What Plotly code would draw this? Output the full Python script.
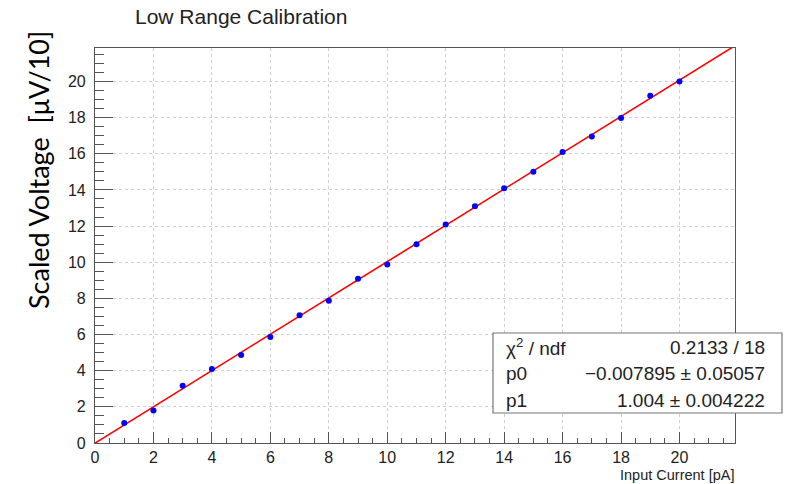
import plotly.graph_objects as go

# ---- data ----
current_pA = [1, 2, 3, 4, 5, 6, 7, 8, 9, 10, 11, 12, 13, 14, 15, 16, 17, 18, 19, 20]
scaled_voltage = [1.10, 1.80, 3.17, 4.09, 4.87, 5.86, 7.07, 7.87, 9.09, 9.88,
                  10.99, 12.08, 13.09, 14.09, 15.01, 16.10, 16.96, 17.98, 19.21, 19.99]
fit_p0 = -0.007895
fit_p1 = 1.004
fit_x = [0.0, 21.9]
stat_names = ["χ<sup>2</sup> / ndf", "p0", "p1"]
stat_values = ["0.2133 / 18", "−0.007895 ± 0.05057", "1.004 ± 0.004222"]
x_ticks = [0, 2, 4, 6, 8, 10, 12, 14, 16, 18, 20]
y_ticks = [0, 2, 4, 6, 8, 10, 12, 14, 16, 18, 20]

fit_y = [fit_p0 + fit_p1 * x for x in fit_x]

W, H = 785, 484
ML, MR, MT, MB = 95, 50, 48, 41
PW, PH = W - ML - MR, H - MT - MB

def px_x(px):
    return (px - ML) / PW

def px_y(py):
    return (H - MB - py) / PH

fig = go.Figure()
fig.add_trace(go.Scatter(x=fit_x, y=fit_y, mode="lines",
                         line=dict(color="#ff0000", width=1.6), hoverinfo="skip"))
fig.add_trace(go.Scatter(x=current_pA, y=scaled_voltage, mode="markers",
                         marker=dict(color="#0000ff", size=6)))

tickfont = dict(family="Liberation Sans, Arial, sans-serif", size=16, color="#222")
common = dict(showline=True, linecolor="#555", linewidth=1.2, mirror=True,
              showgrid=True, gridcolor="#cfcfcf", griddash="dot", gridwidth=1,
              zeroline=False, ticks="inside", tickcolor="#555", tickfont=tickfont)

fig.update_xaxes(range=[0, 21.9], tickvals=x_ticks, ticklen=11, ticklabelstandoff=0,
                 minor=dict(dtick=0.5, ticks="inside", ticklen=5, tickcolor="#555", showgrid=False),
                 **common)
fig.update_yaxes(range=[0, 21.85], tickvals=y_ticks, ticklen=18, ticklabelstandoff=5,
                 minor=dict(dtick=0.5, ticks="inside", ticklen=9, tickcolor="#555", showgrid=False),
                 **common)

shapes = [dict(type="rect", xref="paper", yref="paper",
               x0=px_x(493), x1=px_x(782), y0=px_y(413), y1=px_y(333),
               line=dict(color="#777", width=1.2), fillcolor="white", layer="above")]

sans = "Liberation Sans, Arial, sans-serif"
ann = []
ann.append(dict(text="Low Range Calibration", xref="paper", yref="paper",
                x=px_x(241), y=px_y(16), xanchor="center", yanchor="middle",
                showarrow=False, font=dict(family=sans, size=21, color="#222")))
ann.append(dict(text="Scaled Voltage  [μV/10]", xref="paper", yref="paper",
                x=px_x(38), y=px_y(170), xanchor="center", yanchor="middle", textangle=-90,
                showarrow=False, font=dict(family="Lato, Noto Sans", size=27, color="#000")))
ann.append(dict(text="Input Current [pA]", xref="paper", yref="paper",
                x=px_x(736), y=px_y(475), xanchor="right", yanchor="middle",
                showarrow=False, font=dict(family=sans, size=14.5, color="#222")))
rows_y = [347, 373.5, 400]
for name, val, ry in zip(stat_names, stat_values, rows_y):
    ann.append(dict(text=name, xref="paper", yref="paper", x=px_x(504), y=px_y(ry),
                    xanchor="left", yanchor="middle", showarrow=False,
                    font=dict(family=sans, size=19, color="#222")))
    ann.append(dict(text=val, xref="paper", yref="paper", x=px_x(767), y=px_y(ry),
                    xanchor="right", yanchor="middle", showarrow=False,
                    font=dict(family=sans, size=19, color="#222")))

fig.update_layout(width=W, height=H, margin=dict(l=ML, r=MR, t=MT, b=MB),
                  paper_bgcolor="white", plot_bgcolor="white", showlegend=False,
                  shapes=shapes, annotations=ann)

fig.write_html("out.html")
